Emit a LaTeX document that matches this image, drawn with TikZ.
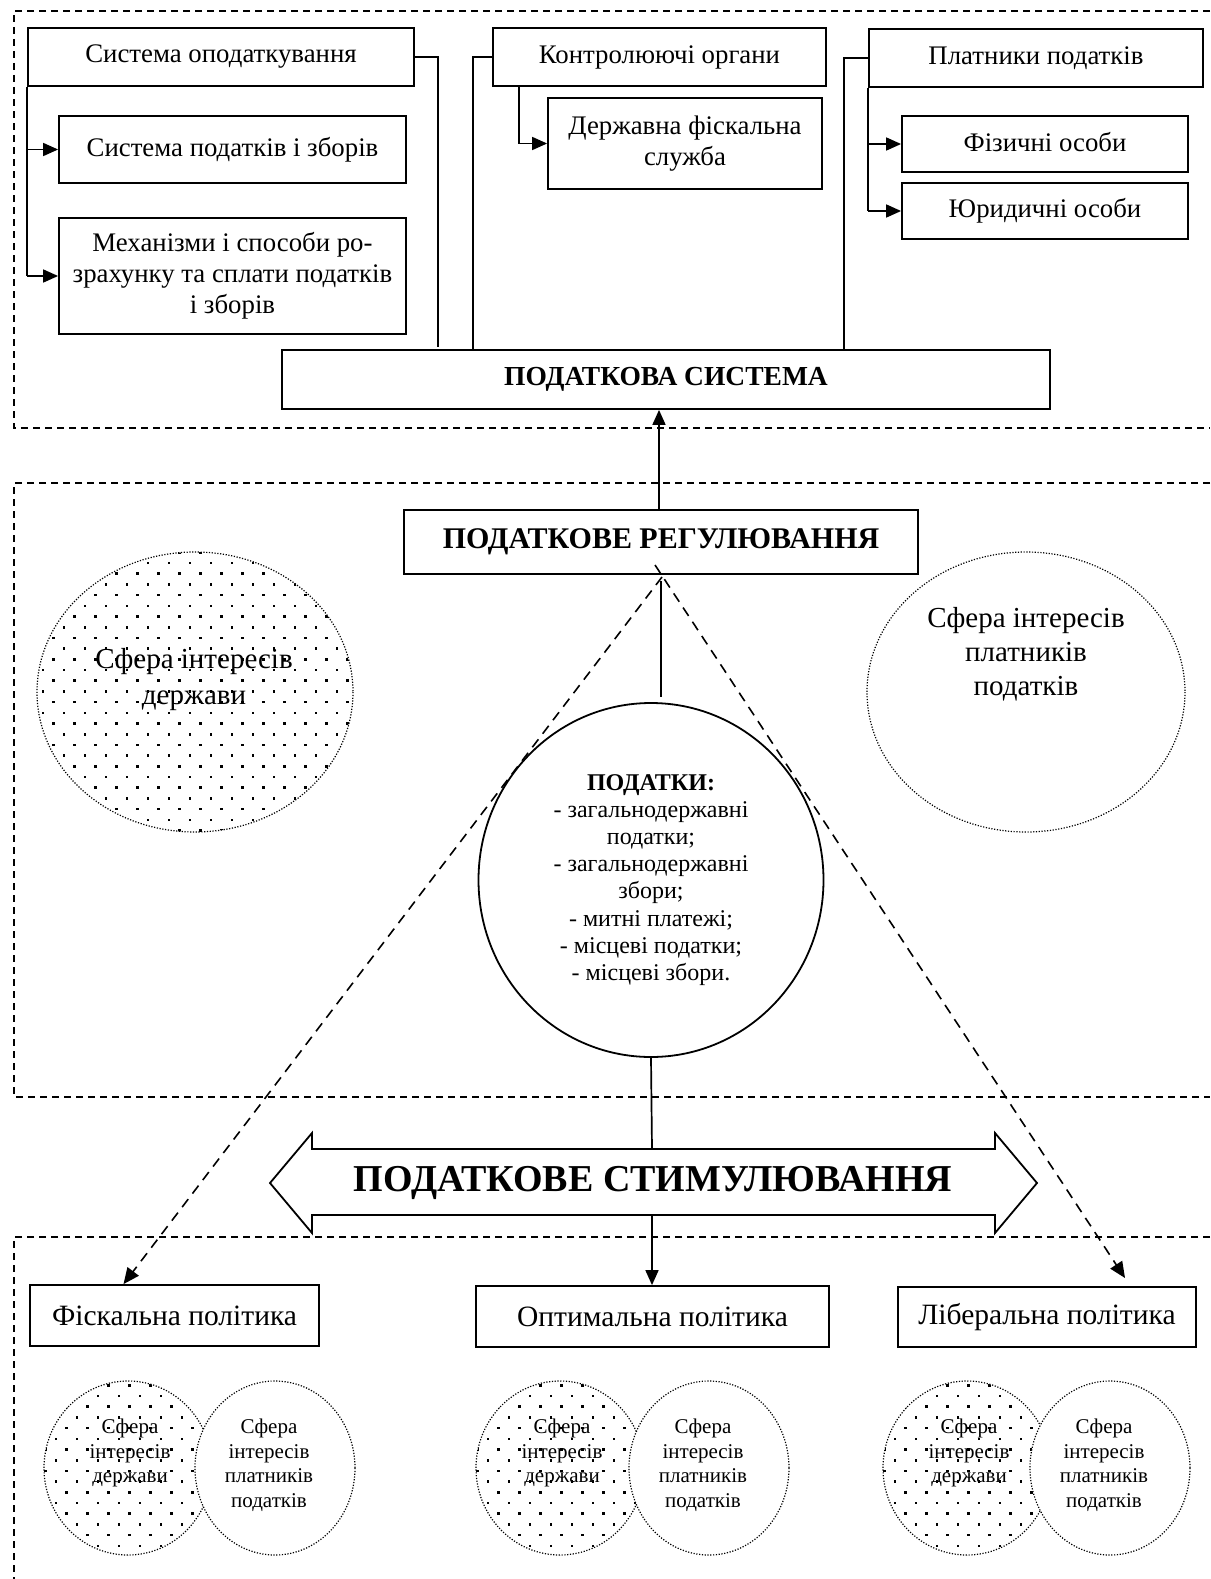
\documentclass[tikz,border=0pt]{standalone}
\usepackage{fontspec}
\setmainfont{Liberation Serif}
\usetikzlibrary{arrows.meta,calc,shapes.geometric}
\newcommand\fsz[2]{\fontsize{#1}{#2}\selectfont}
\begin{document}
\begin{tikzpicture}[x=1pt,y=-1pt,
  box/.style={draw,line width=1.8pt,inner sep=0pt,align=center,fill=white,font=\fsz{26.8}{31}},
  conn/.style={line width=1.7pt},
  arr/.style={line width=1.7pt,-{Triangle[length=15pt,width=13pt]}},
  frame/.style={line width=1.9pt,dash pattern=on 7pt off 5pt},
  tri/.style={line width=1.6pt,dash pattern=on 10pt off 7pt},
  dotline/.style={line width=1.2pt,dash pattern=on 1.2pt off 1.6pt},
]
\useasboundingbox (0,0) rectangle (1210,1579);
\fill[white] (0,0) rectangle (1210,1579);

% frames
\draw[frame] (1210,11) -- (14,11) -- (14,428) -- (1210,428);
\draw[frame] (1210,483) -- (14,483) -- (14,1097) -- (1210,1097);
\draw[frame] (1210,1237) -- (14,1237) -- (14,1579);

% top boxes
\node[box,minimum width=386pt,minimum height=58pt] (so) at (221,57) {Система оподаткування};
\node[box,minimum width=347pt,minimum height=67pt] (spz) at (232.5,149.5) {\raisebox{6pt}{Система податків і зборів}};
\node[box,minimum width=347pt,minimum height=116pt] (mech) at (232.5,276) {Механізми і способи ро-\\зрахунку та сплати податків\\і зборів};
\node[box,minimum width=333pt,minimum height=58pt] (ko) at (659.5,57) {Контролюючі органи};
\node[box,minimum width=274pt,minimum height=91pt] (dfs) at (685,143.5) {\raisebox{3pt}{\parbox{260pt}{\centering Державна фіскальна\\служба}}};
\node[box,minimum width=334pt,minimum height=58pt] (pp) at (1036,58) {Платники податків};
\node[box,minimum width=286pt,minimum height=56pt] (fo) at (1045,144) {\raisebox{4pt}{Фізичні особи}};
\node[box,minimum width=286pt,minimum height=56pt] (yo) at (1045,211) {Юридичні особи};
\node[box,minimum width=768pt,minimum height=59pt,font=\fsz{27.5}{31}\bfseries] (ps) at (666,379.5) {ПОДАТКОВА СИСТЕМА};

% top connectors
\coordinate (c1) at (438,347);
\coordinate (c2) at (473,350);
\coordinate (c3) at (844,350);
\draw[conn] (so.south west) -- (so.south west |- mech.west);
\draw[arr] (so.south west |- spz.west) -- (spz.west);
\draw[arr] (so.south west |- mech.west) -- (mech.west);
\draw[conn] (so.east) -| (c1);
\draw[conn] (ko.west) -| (c2);
\draw[arr] ([xshift=27pt]ko.south west) |- (dfs.west);
\draw[conn] (pp.west) -| (c3);
\draw[conn] (pp.south west) -- (pp.south west |- yo.west);
\draw[arr] (pp.south west |- fo.west) -- (fo.west);
\draw[arr] (pp.south west |- yo.west) -- (yo.west);

% middle
\node[box,minimum width=514pt,minimum height=64pt,font=\fsz{30}{34}\bfseries] (pr) at (661,542) {ПОДАТКОВЕ РЕГУЛЮВАННЯ};
\draw[arr] ([xshift=-2pt]pr.north) -- ([xshift=-2pt]pr.north |- ps.south);

% left ellipse with dots
\begin{scope}
\clip (195,692) ellipse [x radius=158, y radius=140];
\foreach \r in {0,...,27} {
  \foreach \c in {0,...,16} {
    \fill ({31+\c*21+mod(\r,2)*10.5},{551+\r*10.7}) rectangle ++(2.6,2.6);
  }
}
\end{scope}
\draw[dotline] (195,692) ellipse [x radius=158, y radius=140];
\node[align=center,font=\fsz{29}{36}] (sd) at (194,680) {Сфера інтересів\\держави};

% right ellipse
\draw[dotline] (1026,692) ellipse [x radius=159, y radius=140];
\node[align=center,font=\fsz{29}{34}] (sp) at (1026,654) {Сфера інтересів\\платників\\податків};

% taxes circle
\node[draw,ellipse,line width=1.8pt,minimum width=345pt,minimum height=354pt,inner sep=0pt,align=center,font=\fsz{24}{27.1}] (tax) at (651,880)
 {\textbf{ПОДАТКИ:}\\- загальнодержавні\\податки;\\- загальнодержавні\\збори;\\- митні платежі;\\- місцеві податки;\\- місцеві збори.};
\draw[conn,shorten <=6pt,shorten >=5pt] (pr.south) -- (pr.south |- tax.north);

% triangle lines
\coordinate (apL) at (662,577);
\coordinate (apR) at (655,565);

% bottom boxes
\node[box,minimum width=289pt,minimum height=61pt,font=\fsz{29.5}{34}] (fp) at (174.5,1315.5) {Фіскальна політика};
\node[box,minimum width=353pt,minimum height=61pt,font=\fsz{29.5}{34}] (op) at (652.5,1316.5) {Оптимальна політика};
\node[box,minimum width=298pt,minimum height=60pt,font=\fsz{29.5}{34}] (lp) at (1047,1317) {Ліберальна політика};

\draw[tri,-{Triangle[length=16pt,width=14pt]}] (apL) -- ([xshift=-51pt]fp.north);
\coordinate (lpt) at (1125,1278);
\draw[tri,-{Triangle[length=16pt,width=14pt]}] (apR) -- (lpt);

% stimulating arrow
\coordinate (stimc) at (653,1183);
\draw[line width=1.8pt,fill=white] (270,1183) -- (312,1133) -- (312,1149) -- (995,1149) -- (995,1133) -- (1037,1183)
  -- (995,1233) -- (995,1215) -- (312,1215) -- (312,1233) -- cycle;
\node[font=\fsz{38}{40}\bfseries] (stim) at (stimc) {ПОДАТКОВЕ СТИМУЛЮВАННЯ};
\coordinate (shT) at (652,1149);
\coordinate (shB) at (652,1215);
\draw[conn] (tax.south) -- (shT);
\draw[arr] (shB) -- (shB |- op.north);

% Venn groups
\foreach \lx/\rx/\nm in {128/275/a, 560/709/b, 967/1110/c} {
  \begin{scope}
    \clip (\lx,1468) ellipse [x radius=84, y radius=87];
    \foreach \r in {0,...,16} {
      \foreach \c in {0,...,8} {
        \fill ({\lx-84+\c*21+mod(\r,2)*10.5},{1384+\r*10.7}) rectangle ++(2.6,2.6);
      }
    }
  \end{scope}
  \draw[dotline] (\lx,1468) ellipse [x radius=84, y radius=87];
  \draw[dotline,fill=white] (\rx,1468) ellipse [x radius=80, y radius=87];
  \node[align=center,font=\fsz{21}{24.5}] (g\nm l) at ({\lx+2},1453) {Сфера\\інтересів\\держави};
  \node[align=center,font=\fsz{21}{24.5}] (g\nm r) at ({\rx-6},1465) {Сфера\\інтересів\\платників\\податків};
}
\end{tikzpicture}
\end{document}
